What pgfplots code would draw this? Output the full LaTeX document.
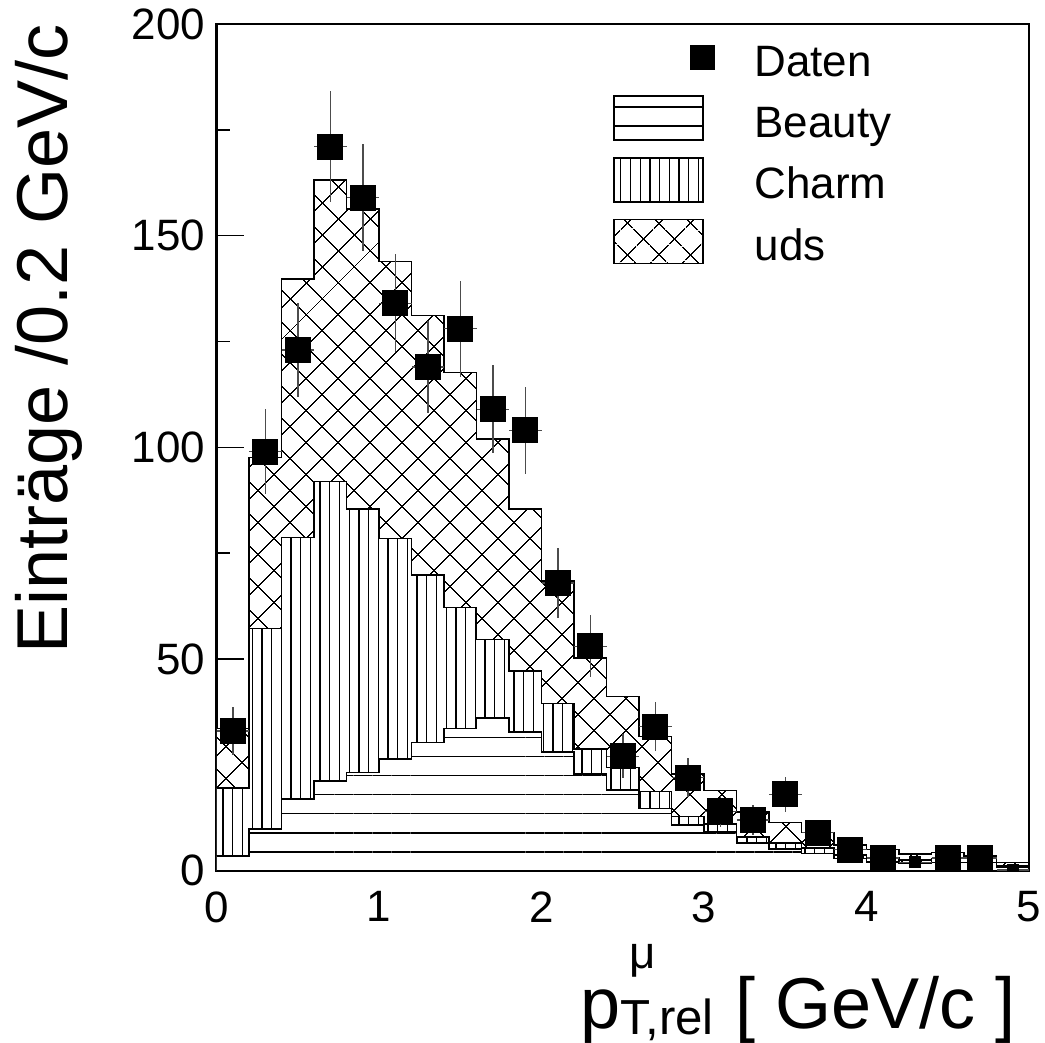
\documentclass[border=0pt]{standalone}
\usepackage{fontspec}
\setmainfont{Liberation Sans}
\usepackage{pgfplots}
\pgfplotsset{compat=1.18}
\usepackage{pgfplotstable}
\usetikzlibrary{patterns.meta}

\pgfplotstableread{
x tot cb b
0.0 33.6 19.5 3.5
0.2 97.6 57.2 9.8
0.4 139.7 78.7 16.9
0.6 163.2 91.9 21.2
0.8 156.3 85.4 23.2
1.0 143.9 78.5 26.4
1.2 131.1 69.8 30.3
1.4 117.7 62.2 33.6
1.6 102.0 54.6 36.0
1.8 85.4 47.2 32.7
2.0 68.4 39.5 28.0
2.2 50.2 28.7 22.8
2.4 41.1 24.4 19.1
2.6 31.7 18.7 14.7
2.8 22.8 12.8 10.8
3.0 18.9 11.0 9.1
3.2 13.8 8.0 6.5
3.4 11.4 6.6 5.1
3.6 9.0 5.3 4.1
3.8 6.1 3.7 2.9
4.0 5.0 3.0 2.0
4.2 3.9 2.5 1.7
4.4 4.3 2.9 1.9
4.6 3.5 2.9 1.9
4.8 1.9 1.1 0.8
5.0 1.9 1.1 0.8
}\histtab

\pgfplotstableread{
x y ex ey
0.1 33 0.1 5.74
0.3 99 0.1 9.95
0.5 123 0.1 11.09
0.7 171 0.1 13.08
0.9 159 0.1 12.61
1.1 134 0.1 11.58
1.3 119 0.1 10.91
1.5 128 0.1 11.31
1.7 109 0.1 10.44
1.9 104 0.1 10.20
2.1 68 0.1 8.25
2.3 53 0.1 7.28
2.5 27 0.1 5.20
2.7 34 0.1 5.83
2.9 22 0.1 4.69
3.1 14 0.1 3.74
3.3 12 0.1 3.46
3.5 18 0.1 4.24
3.7 9 0.1 3.00
3.9 5 0.1 2.24
4.1 3 0.1 1.73
4.5 3 0.1 1.73
4.7 3 0.1 1.73
}\datatab

\pgfplotstableread{
x y ex ey
4.3 2 0.1 1.41
4.9 0.2 0.1 0
}\smalltab

\begin{document}
\begin{tikzpicture}
\useasboundingbox (0,0) rectangle (104.5mm,104.3mm);
\begin{axis}[
  at={(21.67mm,17.23mm)}, anchor=south west,
  scale only axis, width=81.23mm, height=84.67mm,
  xmin=0, xmax=5, ymin=0, ymax=200,
  xtick={0,1,2,3,4,5}, minor x tick num=4,
  ytick={0,50,100,150,200}, minor y tick num=1,
  tick align=inside, xtick pos=bottom, ytick pos=left,
  major tick length=2.7mm, minor tick length=1.35mm,
  tick style={black, line width=0.4pt},
  axis line style={line width=0.7pt},
  /pgf/number format/assume math mode=true,
  ticklabel style={font=\fontsize{12.5}{14}\selectfont},
  xticklabel style={inner sep=0pt, yshift=-2.0mm},
  yticklabel style={inner sep=0pt, xshift=-1.1mm},
  clip marker paths=true,
  xlabel={p\makebox[0pt][l]{\hspace{0.9mm}\raisebox{6.0mm}{\fontsize{13}{13}\selectfont μ}}\raisebox{-0.6mm}{\fontsize{14}{14}\selectfont T,rel}\hspace{2.2mm}[ GeV/c ]},
  xlabel style={at={(axis description cs:1,0)}, anchor=base east, inner sep=0pt, yshift=-15.83mm, xshift=-1.23mm, font=\fontsize{20.5}{22}\selectfont},
  ylabel={Einträge /0.2 GeV/c},
  ylabel style={at={(axis description cs:-0.1831,1)}, anchor=base east, inner sep=0pt, font=\fontsize{20.5}{22}\selectfont},
  legend image code/.code={\draw[#1] (0mm,-2.2mm) rectangle (8.9mm,2.2mm);},
  legend cell align=left,
  legend style={draw=none, fill=none, inner sep=0pt, outer sep=0pt,
    at={(axis description cs:0.4879,0.9865)}, anchor=north west,
    row sep=1.6mm, column sep=5.1mm,
    font=\fontsize{12.5}{14}\selectfont,
    nodes={inner sep=0pt, text height=3.8mm, text depth=0mm, anchor=west}},
]
% legend entries (order as in the reference)
\addlegendimage{only marks, mark=square*, black, legend image code/.code={\path[draw=none, fill=none] (0mm,-2.2mm) rectangle (8.9mm,2.2mm); \fill[overlay, draw=none] (8.9mm,0mm) +(-1.25mm,-1.25mm) rectangle +(1.25mm,1.25mm);}}
\addlegendentry{Daten}
\addlegendimage{draw=black, line width=0.45pt, fill=white,
  postaction={pattern={Lines[angle=0,distance=1.91mm,line width=0.4pt]}}}
\addlegendentry{Beauty}
\addlegendimage{draw=black, line width=0.45pt, fill=white,
  postaction={pattern={Lines[angle=90,distance=0.97mm,line width=0.35pt]}}}
\addlegendentry{Charm}
\addlegendimage{draw=black, line width=0.45pt, fill=white,
  postaction={pattern={Lines[angle=45,distance=2.33mm,line width=0.4pt]}},
  postaction={pattern={Lines[angle=-45,distance=2.33mm,line width=0.4pt]}}}
\addlegendentry{uds}
% stacked histograms: total (uds on top), charm+beauty, beauty
\addplot[forget plot, const plot mark left, draw=black, line width=0.45pt, fill=white,
  postaction={pattern={Lines[angle=45,distance=2.33mm,line width=0.4pt]}},
  postaction={pattern={Lines[angle=-45,distance=2.33mm,line width=0.4pt]}}]
  table[x=x, y=tot] {\histtab} \closedcycle;
\addplot[forget plot, const plot mark left, draw=black, line width=0.45pt, fill=white,
  postaction={pattern={Lines[angle=90,distance=0.97mm,line width=0.35pt]}}]
  table[x=x, y=cb] {\histtab} \closedcycle;
\addplot[forget plot, const plot mark left, draw=black, line width=0.45pt, fill=white,
  postaction={pattern={Lines[angle=0,distance=1.91mm,line width=0.4pt]}}]
  table[x=x, y=b] {\histtab} \closedcycle;
% data
\addplot[forget plot, only marks, mark=square*, mark size=3.5pt, black,
  error bars/.cd, x dir=both, x explicit, y dir=both, y explicit,
  error bar style={black!70, line width=0.4pt}, error mark=none]
  table[x=x, y=y, x error=ex, y error=ey] {\datatab};
\addplot[forget plot, only marks, mark=square*, mark size=1.45pt, black,
  error bars/.cd, x dir=both, x explicit, y dir=both, y explicit,
  error bar style={black!70, line width=0.4pt}, error mark=none]
  table[x=x, y=y, x error=ex, y error=ey] {\smalltab};
\end{axis}
\end{tikzpicture}
\end{document}
